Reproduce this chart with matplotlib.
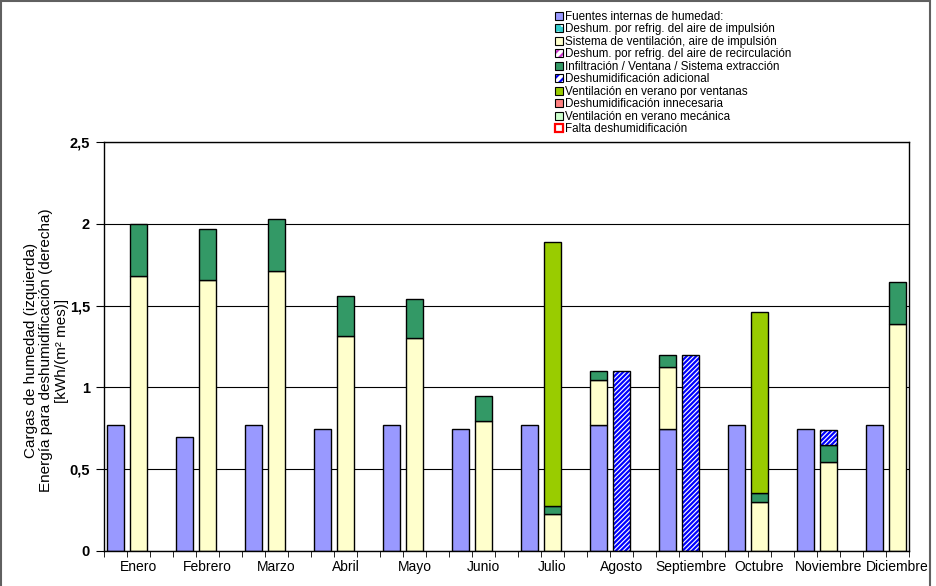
import matplotlib.pyplot as plt
import numpy as np
from matplotlib.patches import Patch, Rectangle
from matplotlib.legend_handler import HandlerTuple

plt.rcParams['font.family'] = ['Liberation Sans', 'DejaVu Sans']
plt.rcParams['hatch.linewidth'] = 1.6

meses = ['Enero', 'Febrero', 'Marzo', 'Abril', 'Mayo', 'Junio', 'Julio',
         'Agosto', 'Septiembre', 'Octubre', 'Noviembre', 'Diciembre']

# columna izquierda de cada mes (cargas de humedad)
fuentes_izq = [0.768, 0.694, 0.768, 0.743, 0.768, 0.743, 0.768, 0.768, 0.743, 0.768, 0.743, 0.768]
ventilacion_izq = [0, 0, 0, 0, 0, 0, 0, 0.277, 0.383, 0, 0, 0]
infiltracion_izq = [0, 0, 0, 0, 0, 0, 0, 0.053, 0.072, 0, 0, 0]

# columna derecha de cada mes
ventilacion_der = [1.683, 1.659, 1.710, 1.314, 1.302, 0.794, 0.225, 0, 0, 0.298, 0.545, 1.387]
infiltracion_der = [0.315, 0.312, 0.318, 0.245, 0.240, 0.155, 0.047, 0, 0, 0.055, 0.102, 0.257]
adicional_der = [0, 0, 0, 0, 0, 0, 0, 1.098, 1.198, 0, 0.094, 0]
ventanas_der = [0, 0, 0, 0, 0, 0, 1.615, 0, 0, 1.106, 0, 0]

etiquetas = ['Fuentes internas de humedad:',
             'Deshum. por refrig. del aire de impulsión',
             'Sistema de ventilación, aire de impulsión',
             'Deshum. por refrig. del aire de recirculación',
             'Infiltración / Ventana / Sistema extracción',
             'Deshumidificación adicional',
             'Ventilación en verano por ventanas',
             'Deshumidificación innecesaria',
             'Ventilación en verano mecánica',
             'Falta deshumidificación']

yticks = [0, 0.5, 1, 1.5, 2, 2.5]
ytick_labels = ['0', '0,5', '1', '1,5', '2', '2,5']

fig = plt.figure(figsize=(9.36, 5.86), dpi=100)
ax = fig.add_axes([104/936, 1 - 550.7/586, 805/936, 408.5/586])

n = len(meses)
x_izq = np.arange(n) * 3
x_der = np.arange(n) * 3 + 1
w = 0.78


def apilar(x, capas):
    base = np.zeros(len(x))
    for vals, color, hatch in capas:
        vals = np.array(vals, dtype=float)
        m = vals > 0
        if hatch:
            ax.bar(x[m], vals[m], w, bottom=base[m], color='white',
                   edgecolor=color, hatch=hatch, linewidth=0, zorder=2)
            ax.bar(x[m], vals[m], w, bottom=base[m], fill=False,
                   edgecolor='black', linewidth=1, zorder=3)
        else:
            ax.bar(x[m], vals[m], w, bottom=base[m], color=color,
                   edgecolor='black', linewidth=1, zorder=2)
        base = base + vals


apilar(x_izq, [(fuentes_izq, '#9999FF', None),
               (ventilacion_izq, '#FFFFCC', None),
               (infiltracion_izq, '#339966', None)])
apilar(x_der, [(ventilacion_der, '#FFFFCC', None),
               (infiltracion_der, '#339966', None),
               (adicional_der, '#0000FF', '///////'),
               (ventanas_der, '#99CC00', None)])

ax.set_xlim(-0.5, 3 * n - 1.5)
ax.set_ylim(0, 2.5)
ax.set_yticks(yticks)
ax.set_yticklabels(ytick_labels, fontsize=10.5, fontweight='bold')
ax.set_xticks(x_der)
ax.set_xticklabels(meses, fontsize=10)
ax.set_xticks(np.arange(-0.5, 3 * n - 1, 1), minor=True)
ax.tick_params(axis='x', which='major', length=0, pad=7)
ax.tick_params(axis='x', which='minor', length=4, direction='out')
ax.tick_params(axis='y', length=6, direction='out', pad=4)
ax.yaxis.grid(True, color='black', linewidth=0.8)
ax.set_axisbelow(True)
for s in ax.spines.values():
    s.set_linewidth(1)
    s.set_color('black')

ax.set_ylabel('Cargas de humedad (izquierda)\nEnergía para deshumidificación (derecha)\n[kWh/(m² mes)]',
              fontsize=11, linespacing=1.1)
ax.yaxis.set_label_coords(-0.044, 0.49)

# leyenda
def marca(color, hatch=None, edge='black', lw=0.8, fondo='white'):
    if hatch:
        return (Patch(facecolor=fondo, edgecolor=color, hatch=hatch, linewidth=0),
                Patch(fill=False, edgecolor=edge, linewidth=lw))
    return Patch(facecolor=color, edgecolor=edge, linewidth=lw)


handles = [marca('#9999FF'),
           marca('white', '..', fondo='#33CCCC'),
           marca('#FFFFCC'),
           marca('#CC33CC', '////'),
           marca('#339966'),
           marca('#0000FF', '////'),
           marca('#99CC00'),
           marca('#FF8080'),
           marca('#CCFFCC'),
           marca('white', edge='#FF0000', lw=1.6)]
fig.legend(handles, etiquetas, loc='upper left', bbox_to_anchor=(555/936, 1 - 11/586),
           frameon=False, fontsize=8.4, handlelength=0.65, handleheight=0.65,
           handletextpad=0.2, labelspacing=0.04, borderaxespad=0, borderpad=0,
           handler_map={tuple: HandlerTuple(ndivide=1)})

fig.patches.append(Rectangle((0.6/936, -0.01), 929.5/936, 1 - 0.6/586 + 0.01,
                             transform=fig.transFigure, fill=False,
                             edgecolor='#606060', linewidth=1.5))

fig.savefig('out.png', dpi=100)
